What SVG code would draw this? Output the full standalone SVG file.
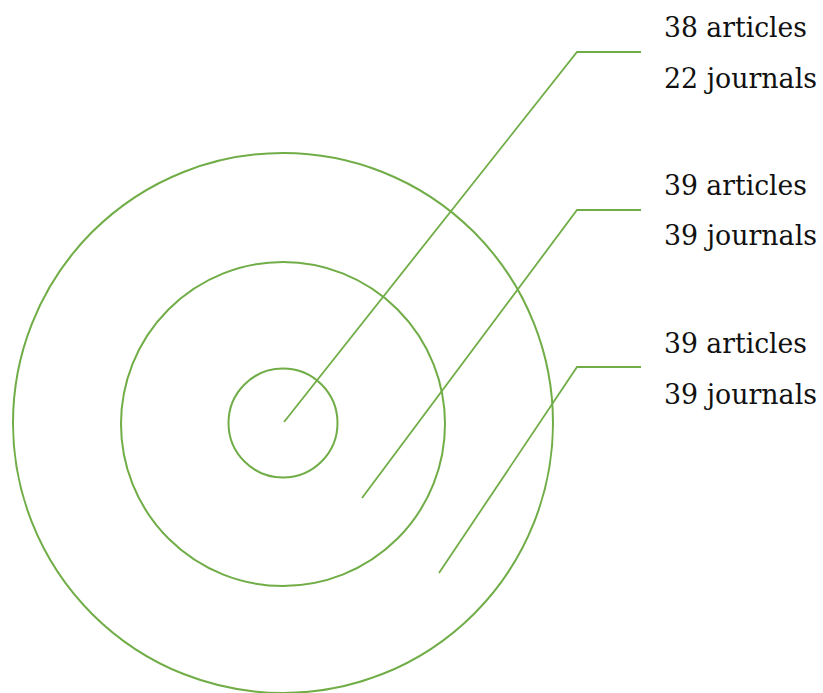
<svg xmlns="http://www.w3.org/2000/svg" width="823" height="693" viewBox="0 0 823 693">
<style>
.ring{fill:none;stroke:#70AD47;stroke-width:2}
.lead{fill:none;stroke:#70AD47;stroke-width:1.8;stroke-linejoin:miter}
.lbl{font-family:'DejaVu Serif',serif;font-size:27px;fill:#111}
</style>
<rect width="823" height="693" fill="#fff"/>
<g id="outer-ring"><circle class="ring" cx="283" cy="423" r="270"/></g>
<g id="middle-ring"><circle class="ring" cx="283" cy="424" r="162"/></g>
<g id="inner-ring"><circle class="ring" cx="283" cy="423" r="54.5"/></g>
<g id="connectors">
<polyline class="lead" points="284,422 577,52 641,52"/>
<polyline class="lead" points="362,498 577,210 641,210"/>
<polyline class="lead" points="439,573 577,367 641,367"/>
</g>
<g id="label-core">
<text class="lbl" x="664" y="37" textLength="143" lengthAdjust="spacingAndGlyphs">38 articles</text>
<text class="lbl" x="664" y="88" textLength="153" lengthAdjust="spacingAndGlyphs">22 journals</text>
</g>
<g id="label-middle">
<text class="lbl" x="664" y="195" textLength="143" lengthAdjust="spacingAndGlyphs">39 articles</text>
<text class="lbl" x="664" y="245" textLength="153" lengthAdjust="spacingAndGlyphs">39 journals</text>
</g>
<g id="label-outer">
<text class="lbl" x="664" y="353" textLength="143" lengthAdjust="spacingAndGlyphs">39 articles</text>
<text class="lbl" x="664" y="404" textLength="153" lengthAdjust="spacingAndGlyphs">39 journals</text>
</g>
</svg>
